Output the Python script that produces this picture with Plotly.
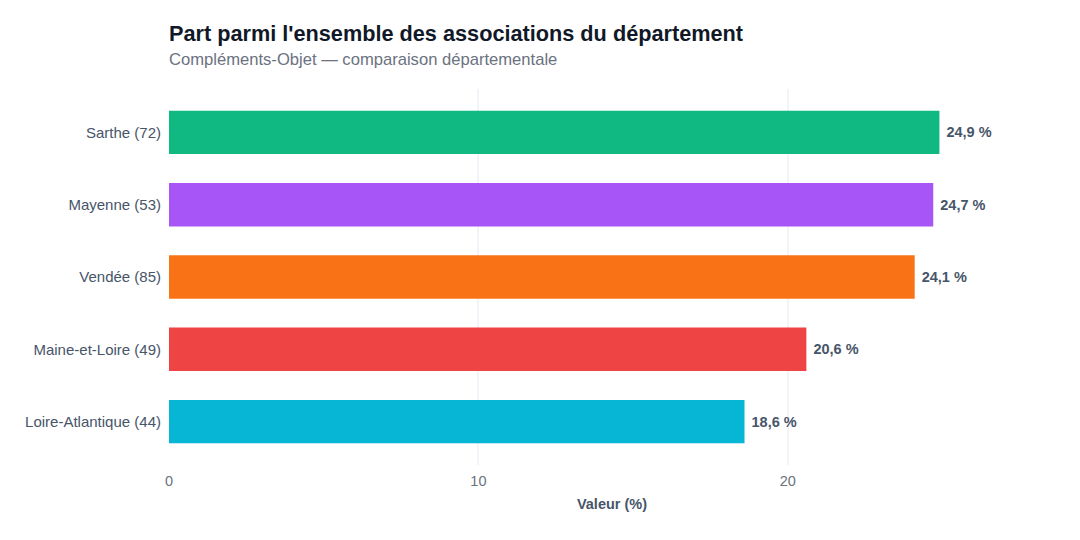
import plotly.graph_objects as go

categories = ["Sarthe (72)", "Mayenne (53)", "Vendée (85)", "Maine-et-Loire (49)", "Loire-Atlantique (44)"]
values = [24.9, 24.7, 24.1, 20.6, 18.6]
colors = ["#10b981", "#a855f7", "#f97316", "#ef4444", "#06b6d4"]
labels = ["\u00a0" + f"{v:.1f}".replace(".", ",") + " %" for v in values]

FONT = "Liberation Sans, Arial, Helvetica, sans-serif"

fig = go.Figure(go.Bar(
    x=values, y=categories, orientation="h",
    marker=dict(color=colors, line=dict(width=0)),
    width=0.6,
    text=labels, textposition="outside",
    textfont=dict(family=FONT, size=14.5, color="#475569", weight="bold"),
    cliponaxis=False,
    hoverinfo="skip",
))

fig.update_layout(
    width=1080, height=540,
    margin=dict(l=169, r=25, t=89, b=75),
    paper_bgcolor="white", plot_bgcolor="white",
    font=dict(family=FONT, color="#475569"),
    showlegend=False,
    title=dict(
        text="<b>Part parmi l'ensemble des associations du département</b>",
        x=169/1080, xanchor="left", xref="container",
        y=1 - 33/540, yanchor="middle", yref="container",
        font=dict(family=FONT, size=21.7, color="#111827"),
    ),
    annotations=[dict(
        text="Compléments-Objet — comparaison départementale",
        xref="paper", yref="paper", x=0, y=1 + (89 - 60) / 376,
        xanchor="left", yanchor="middle", showarrow=False, xshift=-2,
        font=dict(family=FONT, size=16.6, color="#6b7280"),
    )],
    xaxis=dict(
        range=[0, 24.9 * 1.15], dtick=10, tick0=0,
        showgrid=True, gridcolor="#f1f5f9", gridwidth=2,
        zeroline=False, showline=False,
        ticks="outside", ticklen=3, tickcolor="white",
        tickfont=dict(family=FONT, size=14.5, color="#6b7280"),
        title=dict(text="<b>Valeur (%)</b>", font=dict(family=FONT, size=14.5, color="#475569"), standoff=10),
    ),
    yaxis=dict(
        range=[4.6, -0.6], showgrid=False, zeroline=False, showline=False,
        ticks="outside", ticklen=4, tickcolor="white",
        tickfont=dict(family=FONT, size=15, color="#475569"),
    ),
)

fig.write_html("out.html")
